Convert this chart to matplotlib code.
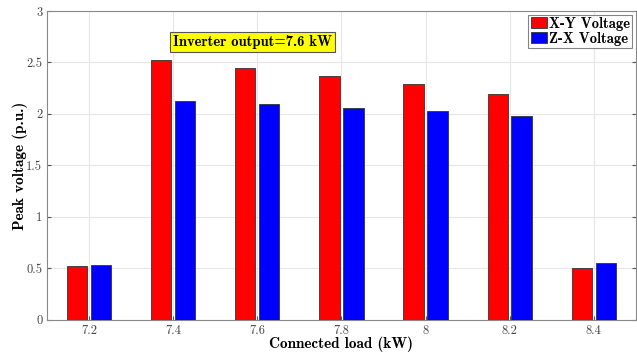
import matplotlib
matplotlib.use("Agg")
import matplotlib.pyplot as plt
import numpy as np

loads = [7.2, 7.4, 7.6, 7.8, 8.0, 8.2, 8.4]
tick_labels = ["7.2", "7.4", "7.6", "7.8", "8", "8.2", "8.4"]
xy_voltage = [0.52, 2.52, 2.45, 2.37, 2.29, 2.19, 0.50]
zx_voltage = [0.53, 2.13, 2.10, 2.06, 2.03, 1.98, 0.55]
y_ticks = [0, 0.5, 1, 1.5, 2, 2.5, 3]
y_tick_labels = ["0", "0.5", "1", "1.5", "2", "2.5", "3"]

plt.rcParams['axes.unicode_minus'] = False

fig = plt.figure(figsize=(6.37, 3.53), dpi=100)
ax = fig.add_axes([0.074, 0.094, 0.924, 0.875])

x = np.array(loads)
w = 0.048
off = 0.0285
ax.bar(x - off, xy_voltage, width=w, color="#ff0000", edgecolor="#333333",
       linewidth=0.6, label="X-Y Voltage", zorder=3)
ax.bar(x + off, zx_voltage, width=w, color="#0000ff", edgecolor="#333333",
       linewidth=0.6, label="Z-X Voltage", zorder=3)

ax.set_xlim(7.1, 8.5)
ax.set_ylim(0, 3)
ax.set_xticks(loads)
ax.set_xticklabels(tick_labels, family="cmr10", fontsize=9, color="#444444")
ax.set_yticks(y_ticks)
ax.set_yticklabels(y_tick_labels, family="cmr10", fontsize=9, color="#444444")
ax.tick_params(direction="in", length=3, color="#555555", right=True, top=False)
ax.grid(True, color="#e6e6e6", linewidth=0.8, zorder=0)
ax.set_axisbelow(True)
for s in ax.spines.values():
    s.set_color("#888888")
    s.set_linewidth(0.8)

ax.set_xlabel("Connected load (kW)", family="cmb10", fontsize=11, labelpad=0)
ax.set_ylabel("Peak voltage (p.u.)", family="cmb10", fontsize=11, labelpad=-1)

ax.text(7.588, 2.70, "Inverter output=7.6 kW", family="cmb10", fontsize=10.5,
        ha="center", va="center",
        bbox=dict(boxstyle="square,pad=0.2", facecolor="#ffff00", edgecolor="#555555", linewidth=0.8))

leg = ax.legend(loc="upper right", prop={"family": "cmb10", "size": 10.5},
                frameon=True, fancybox=False, edgecolor="#666666",
                handlelength=1.1, handleheight=0.75, handletextpad=0.15,
                borderpad=0.15, labelspacing=0.05, borderaxespad=0.25)
leg.get_frame().set_linewidth(0.8)

fig.savefig("out.png", dpi=100)
